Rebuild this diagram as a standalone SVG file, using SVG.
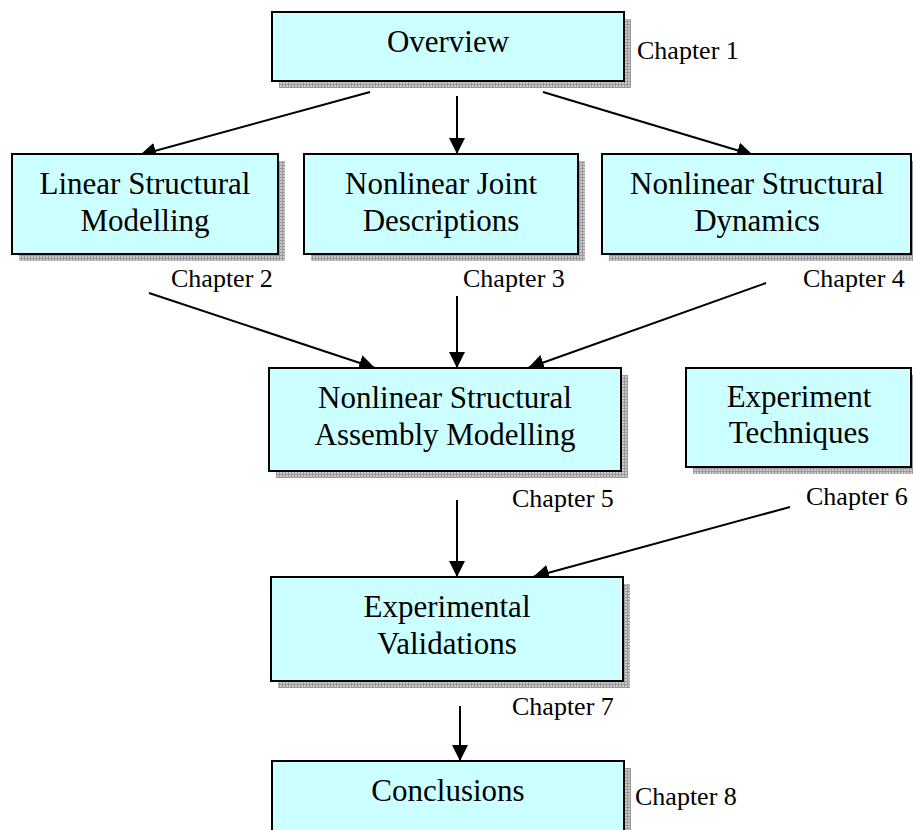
<svg xmlns="http://www.w3.org/2000/svg" width="913" height="830" viewBox="0 0 913 830">
<style>
.box{fill:#ccffff;stroke:#000;stroke-width:2}
.sh{fill:url(#grid)}
.t{font-family:"Liberation Serif","Times New Roman",serif;font-size:31px;fill:#000;text-anchor:middle}
.c{font-family:"Liberation Serif","Times New Roman",serif;font-size:26px;fill:#000}
.ln{stroke:#000;stroke-width:2;fill:none;marker-end:url(#ah)}
</style>
<defs>
<pattern id="grid" width="3" height="3" patternUnits="userSpaceOnUse">
<rect width="3" height="3" fill="#c8c8c8"/>
<path d="M0 0.5H3M0.5 0V3" stroke="#9a9a9a" stroke-width="1"/>
</pattern>
<marker id="ah" markerWidth="8" markerHeight="8" refX="8" refY="4" orient="auto" markerUnits="strokeWidth" viewBox="0 0 8 8">
<path d="M0 0L8 4L0 8Z" fill="#000"/>
</marker>
</defs>
<g id="connectors">
<line class="ln" x1="370" y1="92" x2="140" y2="155"/>
<line class="ln" x1="457" y1="96" x2="457" y2="154"/>
<line class="ln" x1="543" y1="92" x2="753" y2="155"/>
<line class="ln" x1="149" y1="293" x2="375" y2="368"/>
<line class="ln" x1="457" y1="296" x2="457" y2="368"/>
<line class="ln" x1="766" y1="283" x2="528" y2="368"/>
<line class="ln" x1="457" y1="500" x2="457" y2="577"/>
<line class="ln" x1="790" y1="507" x2="533" y2="577"/>
<line class="ln" x1="460" y1="706" x2="460" y2="761"/>
</g>
<g id="overview">
<rect class="sh" x="279" y="19" width="352" height="69"/>
<rect class="box" x="272" y="12" width="352" height="69"/>
<text class="t" x="448" y="52">Overview</text>
<text class="c" x="637" y="59">Chapter 1</text>
</g>
<g id="linear">
<rect class="sh" x="19" y="161" width="266" height="100"/>
<rect class="box" x="12" y="154" width="266" height="100"/>
<text class="t" x="145" y="194">Linear Structural</text>
<text class="t" x="145" y="231">Modelling</text>
<text class="c" x="171" y="287">Chapter 2</text>
</g>
<g id="joint">
<rect class="sh" x="311" y="161" width="274" height="100"/>
<rect class="box" x="304" y="154" width="274" height="100"/>
<text class="t" x="441" y="194">Nonlinear Joint</text>
<text class="t" x="441" y="231">Descriptions</text>
<text class="c" x="463" y="287">Chapter 3</text>
</g>
<g id="dynamics">
<rect class="sh" x="609" y="161" width="309" height="100"/>
<rect class="box" x="602" y="154" width="309" height="100"/>
<text class="t" x="757" y="194">Nonlinear Structural</text>
<text class="t" x="757" y="231">Dynamics</text>
<text class="c" x="803" y="287">Chapter 4</text>
</g>
<g id="assembly">
<rect class="sh" x="276" y="375" width="352" height="103"/>
<rect class="box" x="269" y="368" width="352" height="103"/>
<text class="t" x="445" y="408">Nonlinear Structural</text>
<text class="t" x="445" y="445">Assembly Modelling</text>
<text class="c" x="512" y="507">Chapter 5</text>
</g>
<g id="experiment">
<rect class="sh" x="693" y="375" width="225" height="99"/>
<rect class="box" x="686" y="368" width="225" height="99"/>
<text class="t" x="799" y="407">Experiment</text>
<text class="t" x="799" y="443">Techniques</text>
<text class="c" x="806" y="505">Chapter 6</text>
</g>
<g id="validations">
<rect class="sh" x="278" y="584" width="352" height="104"/>
<rect class="box" x="271" y="577" width="352" height="104"/>
<text class="t" x="447" y="617">Experimental</text>
<text class="t" x="447" y="654">Validations</text>
<text class="c" x="512" y="715">Chapter 7</text>
</g>
<g id="conclusions">
<rect class="sh" x="279" y="768" width="352" height="80"/>
<rect class="box" x="272" y="761" width="352" height="80"/>
<text class="t" x="448" y="801">Conclusions</text>
<text class="c" x="635" y="805">Chapter 8</text>
</g>
</svg>
